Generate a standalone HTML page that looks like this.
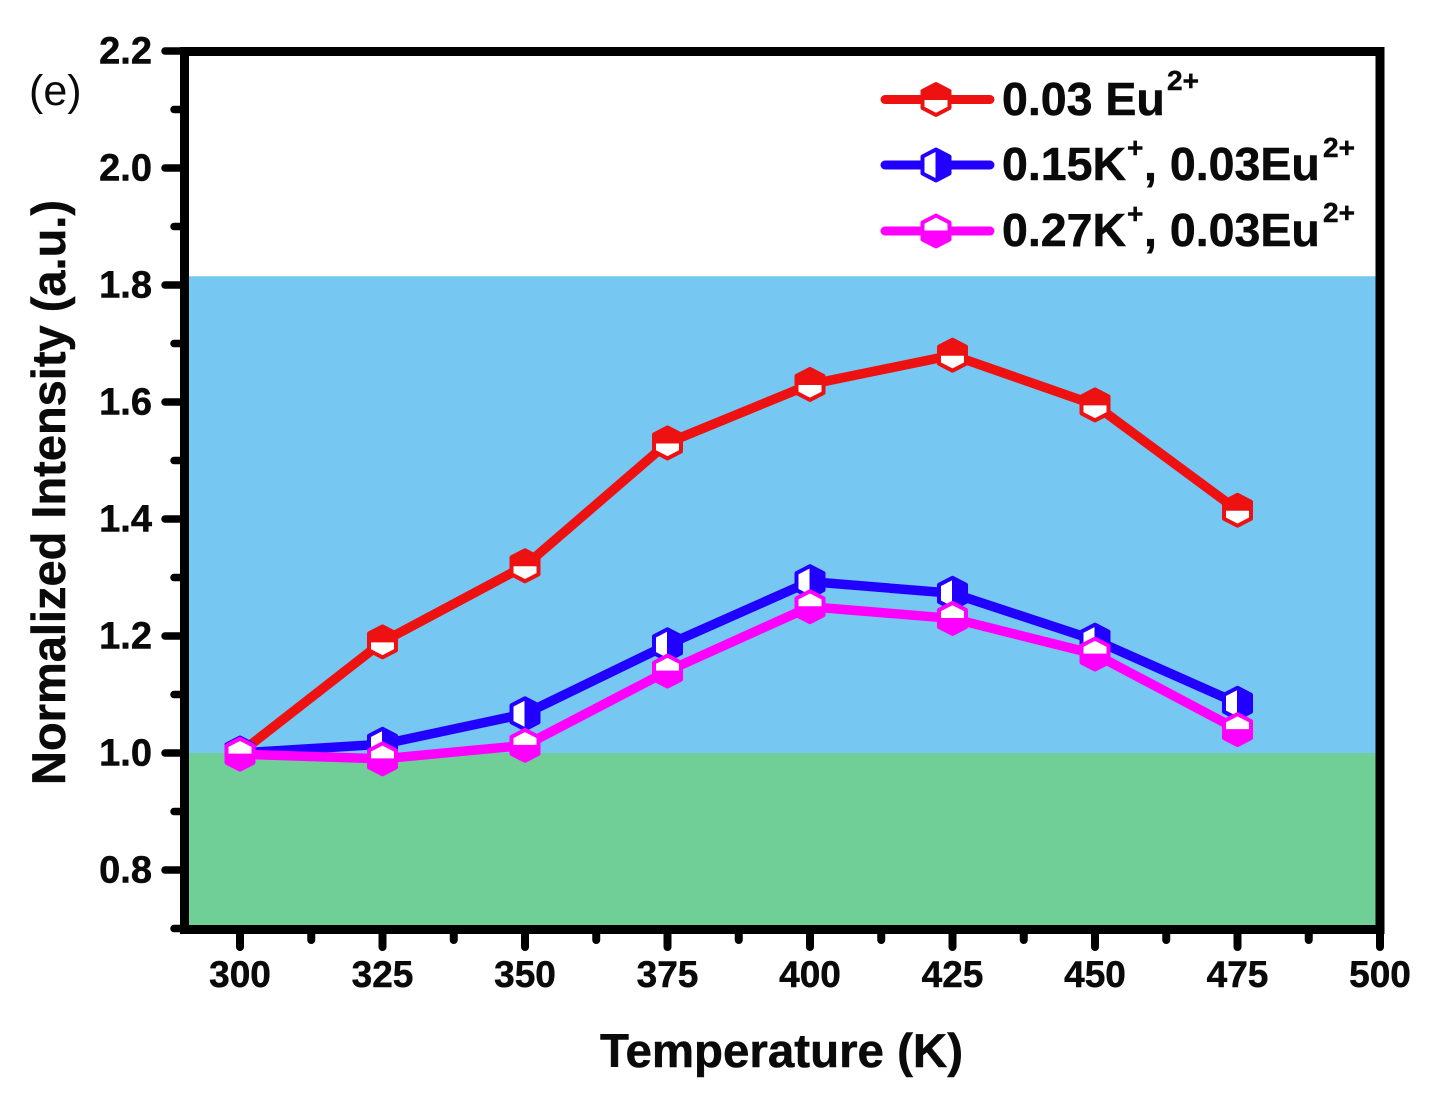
<!DOCTYPE html>
<html lang="en">
<head>
<meta charset="utf-8">
<title>Normalized Intensity vs Temperature</title>
<style>
html,body{margin:0;padding:0;background:#fff;}
svg{display:block;}
text{font-family:"Liberation Sans",Arial,sans-serif;fill:#0a0a0a;}
.b{font-weight:bold;stroke:#0a0a0a;stroke-width:0.5px;}
</style>
</head>
<body>
<svg id="chart" xmlns="http://www.w3.org/2000/svg" width="1437" height="1105" viewBox="0 0 1437 1105">
  <rect x="0" y="0" width="1437" height="1105" fill="#ffffff"/>
  <g id="bands"></g>
  <g id="axes"></g>
  <g id="series"></g>
  <g id="legend">
    <text class="b" x="1002" y="115" font-size="46.5">0.03 Eu</text>
    <text class="b" x="1167" y="90" font-size="28">2+</text>
    <text class="b" x="1002" y="180" font-size="46.5">0.15K</text>
    <text class="b" x="1127" y="157" font-size="28">+</text>
    <text class="b" x="1144" y="180" font-size="46.5">, 0.03Eu</text>
    <text class="b" x="1323" y="157" font-size="28">2+</text>
    <text class="b" x="1002" y="246" font-size="46.5">0.27K</text>
    <text class="b" x="1127" y="223" font-size="28">+</text>
    <text class="b" x="1144" y="246" font-size="46.5">, 0.03Eu</text>
    <text class="b" x="1323" y="222" font-size="28">2+</text>
  </g>
  <text x="29" y="105" font-size="43">(e)</text>
  <text class="b" x="600" y="1067" font-size="47" textLength="363" lengthAdjust="spacingAndGlyphs">Temperature (K)</text>
  <text class="b" transform="translate(65,785) rotate(-90)" x="0" y="0" font-size="47" textLength="585" lengthAdjust="spacingAndGlyphs">Normalized Intensity (a.u.)</text>
</svg>
<script>
const temperatures = [300, 325, 350, 375, 400, 425, 450, 475];
const redValues = [1.0, 1.19, 1.32, 1.53, 1.63, 1.68, 1.595, 1.415];
const blueValues = [1.0, 1.015, 1.067, 1.185, 1.293, 1.273, 1.193, 1.085];
const magentaValues = [0.998, 0.99, 1.013, 1.14, 1.25, 1.23, 1.169, 1.04];
const xTickLabels = ['300', '325', '350', '375', '400', '425', '450', '475', '500'];
const xMinorTicks = [312.5, 337.5, 362.5, 387.5, 412.5, 437.5, 462.5, 487.5];
const yTickLabels = ['0.8', '1.0', '1.2', '1.4', '1.6', '1.8', '2.0', '2.2'];
const yMinorTicks = [0.7, 0.9, 1.1, 1.3, 1.5, 1.7, 1.9, 2.1];
const blueBandTop = 1.815;
const greenBandTop = 1.0;

const NS = 'http://www.w3.org/2000/svg';
const xScale = v => 240 + (v - 300) * 5.7;
const yScale = v => 753 - (v - 1) * 585;
const RED = '#ee1111', BLUE = '#2200ff', MAGENTA = '#ff00ff', INK = '#000000';

function make(tag, attrs, parent) {
  const el = document.createElementNS(NS, tag);
  for (const k in attrs) el.setAttribute(k, attrs[k]);
  parent.appendChild(el);
  return el;
}

const HEX_R = 15.5, HEX_W = 13.5, HEX_S = 8.5;

function hexPoints(cx, cy) {
  const r = HEX_R, w = HEX_W, s = HEX_S;
  return [[cx, cy - r], [cx + w, cy - s], [cx + w, cy + s], [cx, cy + r], [cx - w, cy + s], [cx - w, cy - s]];
}
function pts(a) { return a.map(p => p[0] + ',' + p[1]).join(' '); }

function halfPoints(cx, cy, half) {
  const r = HEX_R, w = HEX_W, s = HEX_S;
  if (half === 'top') return [[cx - w, cy], [cx - w, cy - s], [cx, cy - r], [cx + w, cy - s], [cx + w, cy]];
  if (half === 'bottom') return [[cx - w, cy], [cx - w, cy + s], [cx, cy + r], [cx + w, cy + s], [cx + w, cy]];
  return [[cx, cy - r], [cx + w, cy - s], [cx + w, cy + s], [cx, cy + r]];
}

function drawMarker(parent, cx, cy, color, half) {
  const g = make('g', {}, parent);
  
  
  make('polygon', { points: pts(hexPoints(cx, cy)), fill: '#ffffff', stroke: color, 'stroke-width': 4, 'stroke-linejoin': 'round' }, g);
  make('polygon', { points: pts(halfPoints(cx, cy, half)), fill: color, stroke: color, 'stroke-width': 1 }, g);
}

const bands = document.getElementById('bands');
const blueBand = make('rect', { x: 189, y: yScale(blueBandTop), width: 1187, height: yScale(greenBandTop) - yScale(blueBandTop), fill: '#76c8f2' }, bands);


const greenBand = make('rect', { x: 189, y: yScale(greenBandTop), width: 1187, height: 925 - yScale(greenBandTop), fill: '#6fcf97' }, bands);



const axes = document.getElementById('axes');
const frame = make('rect', { x: 184.5, y: 51.5, width: 1195.5, height: 878, fill: 'none', stroke: INK, 'stroke-width': 9 }, axes);



yTickLabels.forEach(label => {
  const y = yScale(parseFloat(label));
  const tick = make('line', { x1: 165, x2: 184, y1: y, y2: y, stroke: INK, 'stroke-width': 7.5, 'stroke-linecap': 'round' }, axes);
  
  
  const text = make('text', { x: 152, y: y + 12.5, 'text-anchor': 'end', 'font-size': 38, class: 'b' }, axes);
  text.textContent = label;
  
  
});
yMinorTicks.forEach(v => {
  const y = yScale(v);
  const tick = make('line', { x1: 174, x2: 184, y1: y, y2: y, stroke: INK, 'stroke-width': 7.5, 'stroke-linecap': 'round' }, axes);
  
  
});
xTickLabels.forEach(label => {
  const x = xScale(parseFloat(label));
  const tick = make('line', { x1: x, x2: x, y1: 930, y2: 947, stroke: INK, 'stroke-width': 8, 'stroke-linecap': 'round' }, axes);
  
  
  const text = make('text', { x: x, y: 987, 'text-anchor': 'middle', 'font-size': 37, class: 'b' }, axes);
  text.textContent = label;
  
  
});
xMinorTicks.forEach(v => {
  const x = xScale(v);
  const tick = make('line', { x1: x, x2: x, y1: 930, y2: 940, stroke: INK, 'stroke-width': 8, 'stroke-linecap': 'round' }, axes);
  
  
});

const seriesGroup = document.getElementById('series');
function drawSeries(values, color, half, name) {
  const g = make('g', {}, seriesGroup);
  
  
  const line = make('polyline', {
    points: values.map((v, i) => xScale(temperatures[i]) + ',' + yScale(v)).join(' '),
    fill: 'none', stroke: color, 'stroke-width': 9.5, 'stroke-linejoin': 'round'
  }, g);
  
  
  values.forEach((v, i) => drawMarker(g, xScale(temperatures[i]), yScale(v), color, half));
}
drawSeries(redValues, RED, 'top', 'series-red');
drawSeries(blueValues, BLUE, 'right', 'series-blue');
drawSeries(magentaValues, MAGENTA, 'bottom', 'series-magenta');

const legend = document.getElementById('legend');
function drawLegendKey(y, color, half, name) {
  const g = make('g', {}, legend);
  
  
  make('line', { x1: 885, x2: 990, y1: y, y2: y, stroke: color, 'stroke-width': 9, 'stroke-linecap': 'round' }, g);
  drawMarker(g, 936, y, color, half);
}
drawLegendKey(99.5, RED, 'top', 'legend-key-red');
drawLegendKey(165, BLUE, 'right', 'legend-key-blue');
drawLegendKey(231, MAGENTA, 'bottom', 'legend-key-magenta');
</script>
</body>
</html>
